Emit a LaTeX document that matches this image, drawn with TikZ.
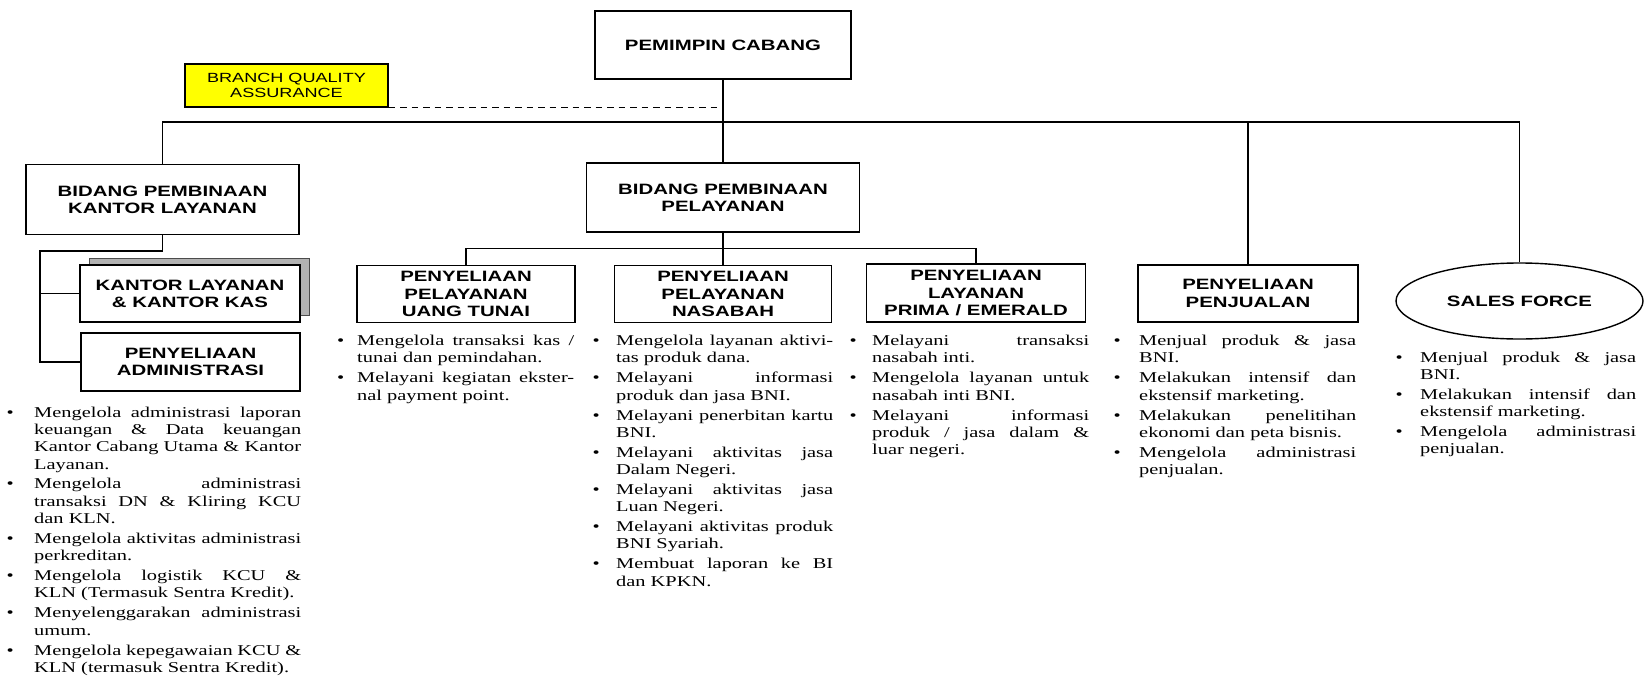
\documentclass[tikz,border=0pt]{standalone}
\usepackage{fontspec}
\usepackage{tikz}
\usetikzlibrary{shapes.geometric,shadows}
\setmainfont{Liberation Serif}[FakeStretch=1.36]
\newfontfamily\headfont{Liberation Sans}[FakeStretch=1.36]
\definecolor{kuning}{rgb}{1.0,1.0,0.0}
\definecolor{bayang}{rgb}{0.7,0.7,0.7}
\newlength{\jarak}
\newcommand\judulfont{\headfont\bfseries\fontsize{15}{17.3}\selectfont}
\newcommand\isifont{\rmfamily\fontsize{15}{17.3}\selectfont\setlength{\parskip}{2.6pt}\tolerance=10000\hbadness=10000}
\newcommand\butir{\par\noindent\strut\llap{\textbullet\hspace{\jarak}}}

\begin{document}
\begin{tikzpicture}[x=1pt, y=-1pt,
	kotak/.style={draw, rectangle, line width=1.4pt, align=center, inner sep=0pt, font=\judulfont},
	garis/.style={line width=1.4pt},
	daftar/.style 2 args={anchor=north west, inner sep=0pt, text width=#1, align=justify, font=\isifont\setlength{\jarak}{#2}}]
	\useasboundingbox (0,0) rectangle (1646,677);

	\node[kotak, minimum width=256pt, minimum height=68pt] (pc) at (723,45) {PEMIMPIN CABANG};
	\node[draw, rectangle, line width=1.4pt, fill=kuning, minimum width=203pt, minimum height=43pt, align=center, inner sep=0pt, font=\headfont\fontsize{13.3}{15.3}\selectfont] (bqa) at (286.5,85.5) {BRANCH QUALITY\\ASSURANCE};
	\node[kotak, minimum width=273pt, minimum height=70pt] (bpkl) at (162.5,199.5) {BIDANG PEMBINAAN\\KANTOR LAYANAN};
	\node[kotak, minimum width=273pt, minimum height=69pt] (bpp) at (723,197.5) {BIDANG PEMBINAAN\\PELAYANAN};

	\node[kotak, fill=white, minimum width=220pt, minimum height=57pt, copy shadow={shadow xshift=9pt, shadow yshift=7pt, fill=bayang, draw=black!70, line width=1pt}] (kl) at (190,293.5) {KANTOR LAYANAN\\\& KANTOR KAS};
	\node[kotak, minimum width=219pt, minimum height=58pt] (adm) at (190.5,362) {PENYELIAAN\\ADMINISTRASI};
	\node[kotak, minimum width=218pt, minimum height=57pt] (put) at (466,294) {PENYELIAAN\\PELAYANAN\\UANG TUNAI};
	\node[kotak, minimum width=217pt, minimum height=57pt] (pn) at (723,294) {PENYELIAAN\\PELAYANAN\\NASABAH};
	\node[kotak, minimum width=219pt, minimum height=58pt] (prima) at (976,293) {PENYELIAAN\\LAYANAN\\PRIMA / EMERALD};
	\node[kotak, minimum width=220pt, minimum height=57pt] (jual) at (1248,293.5) {PENYELIAAN\\PENJUALAN};
	\node[draw, ellipse, line width=1.4pt, minimum width=247pt, minimum height=76pt, inner sep=0pt, font=\judulfont] (sf) at (1519.5,301) {SALES FORCE};

	\coordinate (atas) at (723,122);
	\coordinate (tengah) at (723,248.3);
	\coordinate (kiri) at (40,251);
	\draw [garis] (pc) -- (bpp);
	\draw [garis] (bpkl) |- (atas) -| (sf);
	\draw [garis] (atas) -| (jual);
	\draw [line width=1pt, dash pattern=on 6.5pt off 5pt, shorten >=6pt] (bqa.south east) -- (bqa.south east -| pc);
	\draw [garis] (bpp) -- (pn);
	\draw [garis] (put) |- (tengah) -| (prima);
	\draw [garis] (bpkl) |- (kiri) |- (adm);
	\draw [garis] (kl) -| (kiri);

	\node[daftar={267pt}{20.5pt}] (ladm) at (34,397) {\butir Mengelola administrasi laporan\linebreak keuangan \& Data keuangan\linebreak Kantor Cabang Utama \& Kantor\linebreak Layanan.
		\butir Mengelola administrasi\linebreak transaksi DN \& Kliring KCU\linebreak dan KLN.
		\butir Mengelola aktivitas administrasi\linebreak perkreditan.
		\butir Mengelola logistik KCU \&\linebreak KLN (Termasuk Sentra Kredit).
		\butir Menyelenggarakan administrasi\linebreak umum.
		\butir Mengelola kepegawaian KCU \&\linebreak KLN (termasuk Sentra Kredit).};
	\node[daftar={217pt}{13pt}] (lput) at (357,325.5) {\butir Mengelola transaksi kas /\linebreak tunai dan pemindahan.
		\butir Melayani kegiatan ekster-\linebreak nal payment point.};
	\node[daftar={217pt}{16.5pt}] (lpn) at (616,325.5) {\butir Mengelola layanan aktivi-\linebreak tas produk dana.
		\butir Melayani informasi\linebreak produk dan jasa BNI.
		\butir Melayani penerbitan kartu\linebreak BNI.
		\butir Melayani aktivitas jasa\linebreak Dalam Negeri.
		\butir Melayani aktivitas jasa\linebreak Luan Negeri.
		\butir Melayani aktivitas produk\linebreak BNI Syariah.
		\butir Membuat laporan ke BI\linebreak dan KPKN.};
	\node[daftar={217pt}{15.5pt}] (lprima) at (872,325.5) {\butir Melayani transaksi\linebreak nasabah inti.
		\butir Mengelola layanan untuk\linebreak nasabah inti BNI.
		\butir Melayani informasi\linebreak produk / jasa dalam \&\linebreak luar negeri.};
	\node[daftar={217pt}{18.5pt}] (ljual) at (1139,325.5) {\butir Menjual produk \& jasa\linebreak BNI.
		\butir Melakukan intensif dan\linebreak ekstensif marketing.
		\butir Melakukan penelitihan\linebreak ekonomi dan peta bisnis.
		\butir Mengelola administrasi\linebreak penjualan.};
	\node[daftar={216pt}{17.5pt}] (lsf) at (1420,342) {\butir Menjual produk \& jasa\linebreak BNI.
		\butir Melakukan intensif dan\linebreak ekstensif marketing.
		\butir Mengelola administrasi\linebreak penjualan.};
\end{tikzpicture}
\end{document}
